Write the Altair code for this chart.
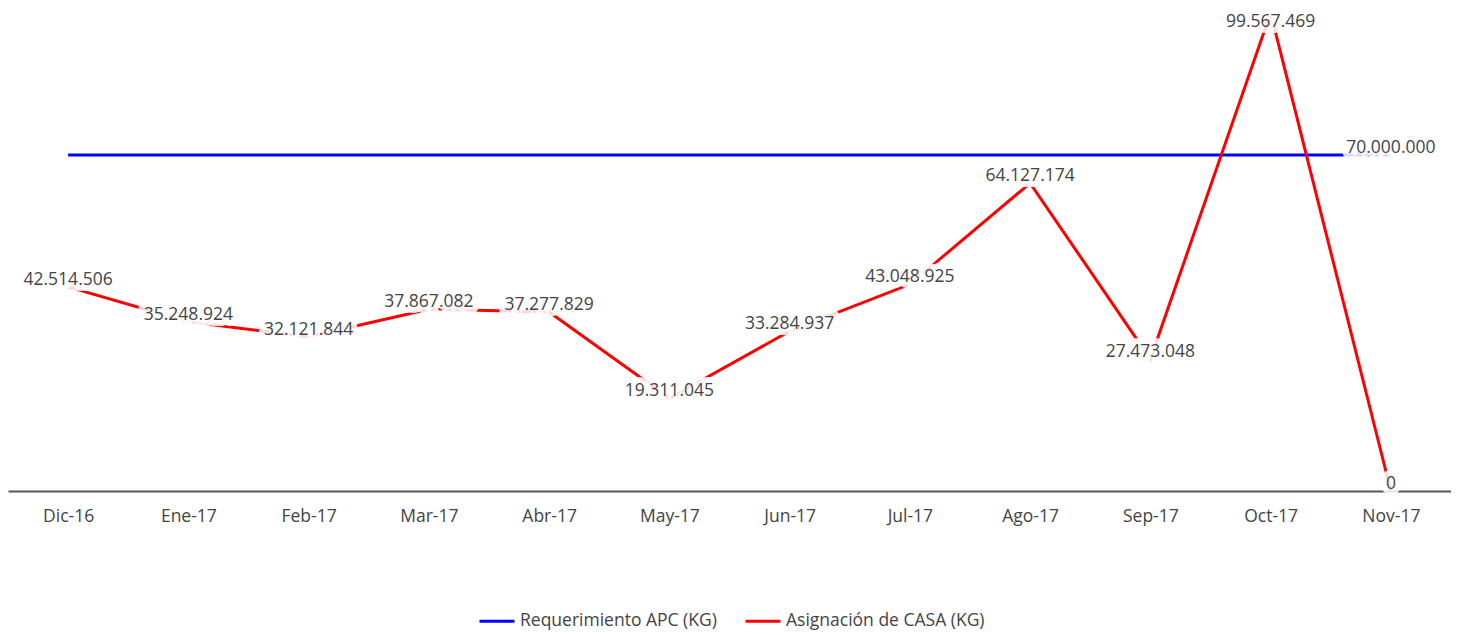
import altair as alt
import pandas as pd

months = ["Dic-16", "Ene-17", "Feb-17", "Mar-17", "Abr-17", "May-17",
          "Jun-17", "Jul-17", "Ago-17", "Sep-17", "Oct-17", "Nov-17"]
asignacion = [42514506, 35248924, 32121844, 37867082, 37277829, 19311045,
              33284937, 43048925, 64127174, 27473048, 99567469, 0]
requerimiento = [70000000] * 12
series_names = ["Requerimiento APC (KG)", "Asignación de CASA (KG)"]
series_colors = ["#0000ff", "#ff0000"]

rows = []
for i, m in enumerate(months):
    rows.append(dict(mes=m, serie=series_names[0], valor=requerimiento[i],
                     show=(i == len(months) - 1)))
    rows.append(dict(mes=m, serie=series_names[1], valor=asignacion[i], show=True))
df = pd.DataFrame(rows)
df["etiqueta"] = df["valor"].map(lambda v: f"{v:,}".replace(",", "."))

FONT = "Open Sans"
FS = 17.5

x_enc = alt.X("mes:N", sort=months, title=None,
              scale=alt.Scale(type="point", padding=0.5),
              axis=alt.Axis(labelAngle=0, ticks=False, grid=False,
                            domainColor="#555", domainWidth=2,
                            labelColor="#444", labelFont=FONT, labelFontSize=FS,
                            labelPadding=16))
y_enc = alt.Y("valor:Q", scale=alt.Scale(domain=[0, 100600000]), axis=None)

base = alt.Chart(df).encode(x=x_enc, y=y_enc)

lines = base.mark_line(strokeWidth=3).encode(
    color=alt.Color("serie:N",
                    scale=alt.Scale(domain=series_names, range=series_colors),
                    legend=alt.Legend(title=None, orient="none", direction="horizontal",
                                      legendX=470, legendY=594, padding=0,
                                      symbolType="stroke", symbolStrokeWidth=3,
                                      symbolSize=1225, labelFont=FONT,
                                      labelFontSize=FS, labelColor="#444",
                                      labelLimit=400,
                                      columnPadding=22, labelOffset=4)),
    detail="serie:N",
)

lab = base.transform_filter("datum.show").transform_joinaggregate(
    maxv="max(valor)")
above = lab.transform_filter("datum.valor < datum.maxv")
below = lab.transform_filter("datum.valor >= datum.maxv")

txt_kw = dict(font=FONT, fontSize=FS, baseline="middle", align="center")

halo_a = above.mark_text(dy=-7, stroke="white", strokeWidth=12, strokeOpacity=0.85,
                         fill="white", fillOpacity=0.85, strokeJoin="round", **txt_kw
                         ).encode(text="etiqueta:N")
text_a = above.mark_text(dy=-7, color="#444", **txt_kw).encode(text="etiqueta:N")
halo_b = below.mark_text(dy=9, stroke="white", strokeWidth=12, strokeOpacity=0.85,
                         fill="white", fillOpacity=0.85, strokeJoin="round", **txt_kw
                         ).encode(text="etiqueta:N")
text_b = below.mark_text(dy=9, color="#444", **txt_kw).encode(text="etiqueta:N")

chart = alt.layer(lines, halo_a, halo_b, text_a, text_b).properties(
    width=1443, height=483, background="white",
    autosize=alt.AutoSizeParams(type="none"),
    padding={"left": 0, "top": 0, "right": 0, "bottom": 142},
).configure_view(stroke=None, strokeWidth=0)

chart.save("out.html", embed_options={"renderer": "svg", "actions": False})
